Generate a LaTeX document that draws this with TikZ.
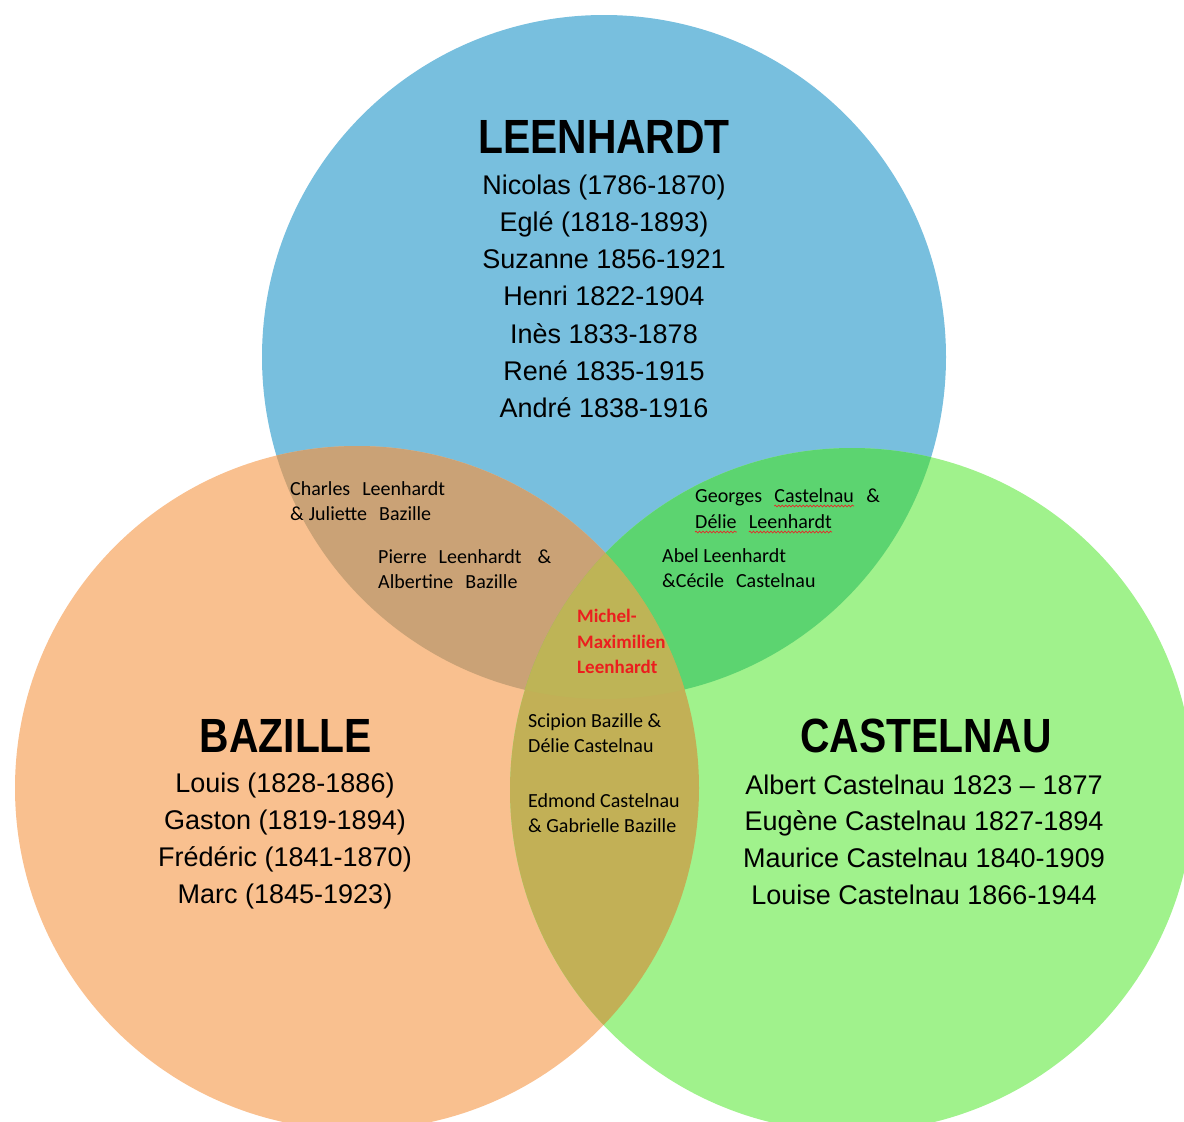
\documentclass[tikz,border=0pt]{standalone}
\usepackage{fontspec}
\setmainfont{Liberation Sans}
\newfontfamily\calibrifont{Carlito}
\usetikzlibrary{decorations.pathmorphing}

\definecolor{leeblue}{RGB}{120,191,222}
\definecolor{bazorange}{RGB}{249,192,143}
\definecolor{casgreen}{RGB}{160,242,140}
\definecolor{leebaz}{RGB}{202,162,118}
\definecolor{leecas}{RGB}{92,212,112}
\definecolor{bazcas}{RGB}{194,176,86}
\definecolor{allthree}{RGB}{190,180,86}
\definecolor{heirred}{RGB}{235,30,30}
\definecolor{spellred}{RGB}{230,40,40}

\newcommand\widespaces{\spaceskip 12pt\relax}

\begin{document}
\begin{tikzpicture}[x=1pt,y=-1pt,
    family/.style={font={\bfseries\fontsize{48}{48}\selectfont}, xscale=0.85, anchor=base, inner sep=0pt},
    member/.style={font={\fontsize{27}{27}\selectfont}, anchor=base, inner sep=0pt},
    couple/.style={font={\calibrifont\fontsize{20}{25}\selectfont}, anchor=base west, inner sep=0pt},
    widecouple/.style={couple, font={\calibrifont\fontsize{20}{25}\selectfont\widespaces}},
    heir/.style={couple, font={\calibrifont\bfseries\fontsize{19}{25}\selectfont}, text=heirred},
    spell/.style={draw=spellred, line width=0.7pt, decorate,
        decoration={snake, amplitude=0.9pt, segment length=3.5pt}}]
    \useasboundingbox (0,0) rectangle (1184,1122);
    \clip (0,0) rectangle (1184,1122);

    \def\rad{342pt}
    \coordinate (lee) at (604,357);
    \coordinate (baz) at (357,788);
    \coordinate (cas) at (852,790);

    % the three families
    \fill[leeblue] (lee) circle[radius=\rad];
    \fill[bazorange] (baz) circle[radius=\rad];
    \fill[casgreen] (cas) circle[radius=\rad];

    % overlaps
    \begin{scope}
        \clip (lee) circle[radius=\rad];
        \fill[leebaz] (baz) circle[radius=\rad];
        \fill[leecas] (cas) circle[radius=\rad];
    \end{scope}
    \begin{scope}
        \clip (baz) circle[radius=\rad];
        \fill[bazcas] (cas) circle[radius=\rad];
        \clip (cas) circle[radius=\rad];
        \fill[allthree] (lee) circle[radius=\rad];
    \end{scope}

    % LEENHARDT
    \node[family] (leetitle) at (604,153) {LEENHARDT};
    \foreach \who [count=\i] in {Nicolas (1786-1870), Eglé (1818-1893), Suzanne 1856-1921,
        Henri 1822-1904, Inès 1833-1878, René 1835-1915, André 1838-1916}
        \node[member] (lee\i) at (604,{194+37.33*(\i-1)}) {\who};

    % BAZILLE
    \node[family] (baztitle) at (286,752) {BAZILLE};
    \foreach \who [count=\i] in {Louis (1828-1886), Gaston (1819-1894),
        Frédéric (1841-1870), Marc (1845-1923)}
        \node[member] (baz\i) at (285,{792+37*(\i-1)}) {\who};

    % CASTELNAU
    \node[family] (castitle) at (926,752) {CASTELNAU};
    \foreach \who [count=\i] in {Albert Castelnau 1823 – 1877, Eugène Castelnau 1827-1894,
        Maurice Castelnau 1840-1909, Louise Castelnau 1866-1944}
        \node[member] (cas\i) at (924,{794+36.8*(\i-1)}) {\who};

    % marriages
    \node[widecouple] (charles1) at (290,495) {Charles Leenhardt};
    \node[widecouple] (charles2) at (290,520) {\&\hspace{5pt}Juliette Bazille};
    \node[widecouple] (pierre1) at (378,563) {Pierre Leenhardt \hspace{4pt}\&};
    \node[widecouple] (pierre2) at (378,588) {Albertine Bazille};
    \node[couple] (georges) at (695,502) {Georges};
    \node[couple] (georgescas) at ([xshift=12pt]georges.base east) {Castelnau};
    \node[couple] (georgesamp) at ([xshift=12pt]georgescas.base east) {\&};
    \node[couple] (delie) at (695,528) {Délie};
    \node[couple] (delielee) at ([xshift=12pt]delie.base east) {Leenhardt};
    \node[couple] (abel1) at (662,562) {Abel Leenhardt};
    \node[widecouple] (abel2) at (662,587) {\&Cécile Castelnau};
    \node[couple] (scipion1) at (528,727) {Scipion Bazille \&};
    \node[couple] (scipion2) at (528,752) {Délie Castelnau};
    \node[couple] (edmond1) at (528,807) {Edmond Castelnau};
    \node[couple] (edmond2) at (528,832) {\& Gabrielle Bazille};

    % spell-check squiggles
    \draw[spell] ([yshift=-4pt]georgescas.base west) -- ([yshift=-4pt]georgescas.base east);
    \draw[spell] ([yshift=-4pt]delie.base west) -- ([yshift=-4pt]delie.base east);
    \draw[spell] ([yshift=-4pt]delielee.base west) -- ([yshift=-4pt]delielee.base east);

    % centre
    \node[heir] (michel1) at (577,622) {Michel-};
    \node[heir] (michel2) at (577,648) {Maximilien};
    \node[heir] (michel3) at (577,673) {Leenhardt};
\end{tikzpicture}
\end{document}
